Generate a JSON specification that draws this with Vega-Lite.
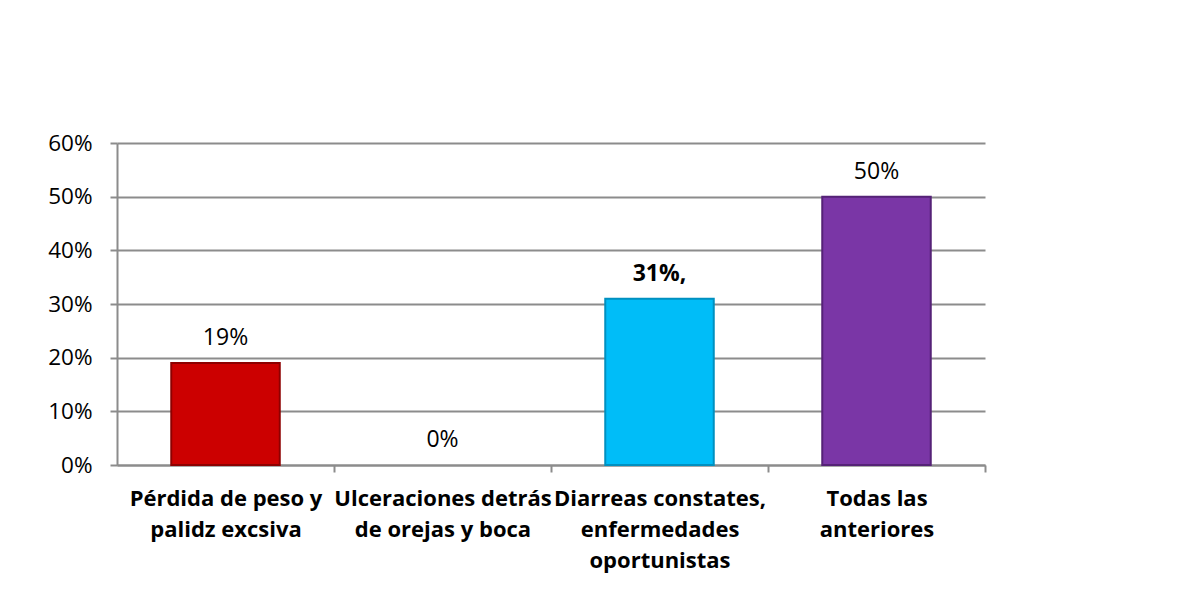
{
  "$schema": "https://vega.github.io/schema/vega-lite/v6.json",
  "autosize": "none",
  "width": 868,
  "height": 322,
  "padding": {"left": 117, "top": 143, "right": 218, "bottom": 134},
  "background": "white",
  "data": {
    "values": [
      {"cat": "Pérdida de peso y palidz excsiva", "value": 0.19, "label": "19%"},
      {"cat": "Ulceraciones detrás de orejas y boca", "value": 0.0, "label": "0%"},
      {"cat": "Diarreas constates, enfermedades oportunistas", "value": 0.31, "label": "31%,"},
      {"cat": "Todas las anteriores", "value": 0.5, "label": "50%"}
    ]
  },
  "encoding": {
    "x": {
      "field": "cat", "type": "nominal", "sort": null,
      "scale": {"paddingInner": 0.5, "paddingOuter": 0.25},
      "axis": {
        "title": null, "labelAngle": 0, "tickOffset": 108.5, "labelOffset": -108.5,
        "domainColor": "#8c8c8c", "domainWidth": 2, "tickColor": "#8c8c8c", "tickWidth": 2, "tickSize": 7,
        "labelFont": "Open Sans", "labelFontSize": 22, "labelFontWeight": "bold", "labelColor": "#000000",
        "labelPadding": 16, "labelLineHeight": 31, "labelOverlap": false, "labelLimit": 0, "labelBound": false,
        "labelExpr": "datum.value == 'Pérdida de peso y palidz excsiva' ? ['Pérdida de peso y', 'palidz excsiva'] : datum.value == 'Ulceraciones detrás de orejas y boca' ? ['Ulceraciones detrás', 'de orejas y boca'] : datum.value == 'Diarreas constates, enfermedades oportunistas' ? ['Diarreas constates,', 'enfermedades', 'oportunistas'] : ['Todas las', 'anteriores']"
      }
    },
    "y": {
      "field": "value", "type": "quantitative",
      "scale": {"domain": [0, 0.6], "nice": false},
      "axis": {
        "title": null, "format": ".0%", "values": [0, 0.1, 0.2, 0.3, 0.4, 0.5, 0.6],
        "domainColor": "#8c8c8c", "domainWidth": 2, "tickColor": "#8c8c8c", "tickWidth": 2, "tickSize": 7,
        "gridColor": "#8c8c8c", "gridWidth": 2,
        "labelFont": "Open Sans", "labelFontSize": 22.5, "labelColor": "#000000", "labelPadding": 18
      }
    }
  },
  "layer": [
    {
      "mark": {"type": "bar", "strokeWidth": 2},
      "encoding": {
        "color": {
          "field": "cat", "type": "nominal", "sort": null, "legend": null,
          "scale": {"range": ["#cc0000", "transparent", "#00bdf8", "#7a36a6"]}
        },
        "stroke": {
          "field": "cat", "type": "nominal", "sort": null, "legend": null,
          "scale": {"range": ["#8e0000", "transparent", "#0090c0", "#552277"]}
        }
      }
    },
    {
      "mark": {"type": "text", "baseline": "bottom", "dy": -13, "font": "Open Sans", "fontSize": 23, "color": "#000000"},
      "transform": [{"filter": "datum.label != '31%,'"}],
      "encoding": {"text": {"field": "label"}}
    },
    {
      "mark": {"type": "text", "baseline": "bottom", "dy": -13, "font": "Open Sans", "fontSize": 23, "fontWeight": "bold", "color": "#000000"},
      "transform": [{"filter": "datum.label == '31%,'"}],
      "encoding": {"text": {"field": "label"}}
    }
  ],
  "config": {"view": {"stroke": null}}
}
